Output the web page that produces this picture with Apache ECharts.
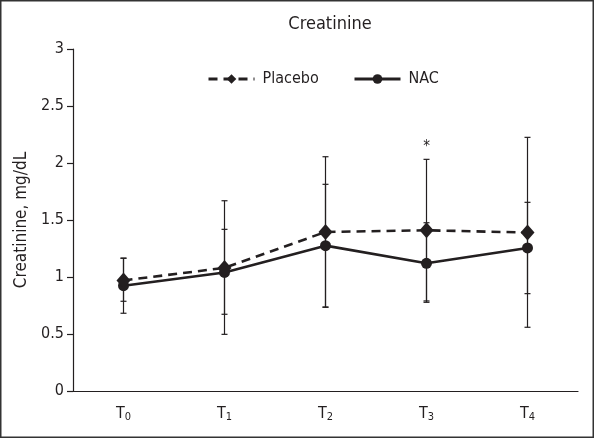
<!DOCTYPE html>
<html><head><meta charset="utf-8">
<script src="https://cdn.jsdelivr.net/npm/echarts@6/dist/echarts.min.js"></script>
<style>html,body{margin:0;padding:0;background:#fff}#c{width:594px;height:438px}</style>
</head><body><div id="c"></div>
<script>
const categories = ['T0','T1','T2','T3','T4'];
const subscripts = ['0','1','2','3','4'];
const placebo = [0.97, 1.08, 1.395, 1.41, 1.39];
const placeboLow = [0.787, 0.497, 0.734, 0.79, 0.559];
const placeboHigh = [1.164, 1.669, 2.055, 2.032, 2.225];
const nac = [0.924, 1.04, 1.275, 1.12, 1.255];
const nacLow = [0.682, 0.673, 0.737, 0.778, 0.854];
const nacHigh = [1.166, 1.418, 1.813, 1.476, 1.655];
const yTicks = [0, 0.5, 1, 1.5, 2, 2.5, 3];
const annotations = [{cat: 3, value: 2.032, text: '*'}];

const FONT = '"Liberation Sans Narrow","DejaVu Sans Condensed","Roboto Condensed",sans-serif';
const INK = '#231f20';

function errData(low, high) {
  return categories.map((c, i) => [i, low[i], high[i]]);
}
function errRender(params, api) {
  const x = api.value(0);
  const lo = api.coord([x, api.value(1)]);
  const hi = api.coord([x, api.value(2)]);
  const w = 3;
  const style = {stroke: INK, lineWidth: 1.2};
  return {type: 'group', children: [
    {type: 'line', shape: {x1: lo[0], y1: lo[1], x2: hi[0], y2: hi[1]}, style},
    {type: 'line', shape: {x1: lo[0]-w, y1: lo[1], x2: lo[0]+w, y2: lo[1]}, style},
    {type: 'line', shape: {x1: hi[0]-w, y1: hi[1], x2: hi[0]+w, y2: hi[1]}, style}
  ]};
}

const legendText = {fontFamily: FONT, fontSize: 16, color: INK, padding: [0, 0, 0, 3]};
const legendLine = {width: 3};
const chart = echarts.init(document.getElementById('c'), null, {renderer: 'canvas'});
chart.setOption({
  animation: false,
  backgroundColor: '#fff',
  title: {text: 'Creatinine', left: 325, textAlign: 'center', top: 10,
    textStyle: {fontFamily: FONT, fontSize: 18, fontWeight: 'normal', color: INK}},
  legend: [
    {top: 66, left: 202, itemWidth: 46, itemHeight: 12, lineStyle: legendLine, textStyle: legendText, data: ['Placebo']},
    {top: 66, left: 348, itemWidth: 46, itemHeight: 12, lineStyle: legendLine, textStyle: legendText, data: ['NAC']}
  ],
  grid: {left: 73, right: 16, top: 49, bottom: 47, containLabel: false, outerBoundsMode: 'none'},
  xAxis: {
    type: 'category', data: categories, boundaryGap: true,
    axisLine: {lineStyle: {color: INK, width: 1.2}},
    axisTick: {show: false},
    axisLabel: {
      margin: 13,
      formatter: (v, i) => '{t|T}{s|' + subscripts[i] + '}',
      rich: {
        t: {fontFamily: FONT, fontSize: 16, color: INK},
        s: {fontFamily: FONT, fontSize: 11, color: INK, verticalAlign: 'bottom', padding: [8, 0, 0, 0]}
      }
    }
  },
  yAxis: {
    type: 'value', min: 0, max: 3, interval: 0.5,
    name: 'Creatinine, mg/dL', nameLocation: 'middle', nameGap: 42,
    nameTextStyle: {fontFamily: FONT, fontSize: 17, color: INK},
    axisLine: {show: true, lineStyle: {color: INK, width: 1.2}},
    axisTick: {show: true, length: 6, lineStyle: {color: INK, width: 1.2}},
    splitLine: {show: false},
    axisLabel: {fontFamily: FONT, fontSize: 16, color: INK, margin: 9,
      formatter: v => yTicks.includes(v) ? String(v) : ''}
  },
  series: [
    {type: 'custom', name: 'errP', renderItem: errRender, data: errData(placeboLow, placeboHigh), z: 1, silent: true},
    {type: 'custom', name: 'errN', renderItem: errRender, data: errData(nacLow, nacHigh), z: 1, silent: true},
    {type: 'line', name: 'NAC', data: nac, symbol: 'circle', symbolSize: 11,
      lineStyle: {color: INK, width: 2.6}, itemStyle: {color: INK}, z: 3},
    {type: 'line', name: 'Placebo', data: placebo, symbol: 'diamond', symbolSize: [14, 16],
      lineStyle: {color: INK, width: 2.6, type: [9, 6]}, itemStyle: {color: INK}, z: 4},
    {type: 'custom', name: 'ann', silent: true, z: 5,
      data: annotations.map(a => [a.cat, a.value, a.text]),
      renderItem: (p, api) => {
        const pt = api.coord([api.value(0), api.value(1)]);
        return {type: 'text', x: pt[0], y: pt[1] - 12,
          style: {text: annotations[p.dataIndex].text, fontFamily: FONT, fontSize: 15, fill: INK, align: 'center', verticalAlign: 'middle'}};
      }}
  ],
  graphic: [{type: 'rect', shape: {x: 0.75, y: 0.75, width: 592.5, height: 436.5},
    style: {fill: 'none', stroke: '#333', lineWidth: 1.5}, z: 100}]
});
</script></body></html>
